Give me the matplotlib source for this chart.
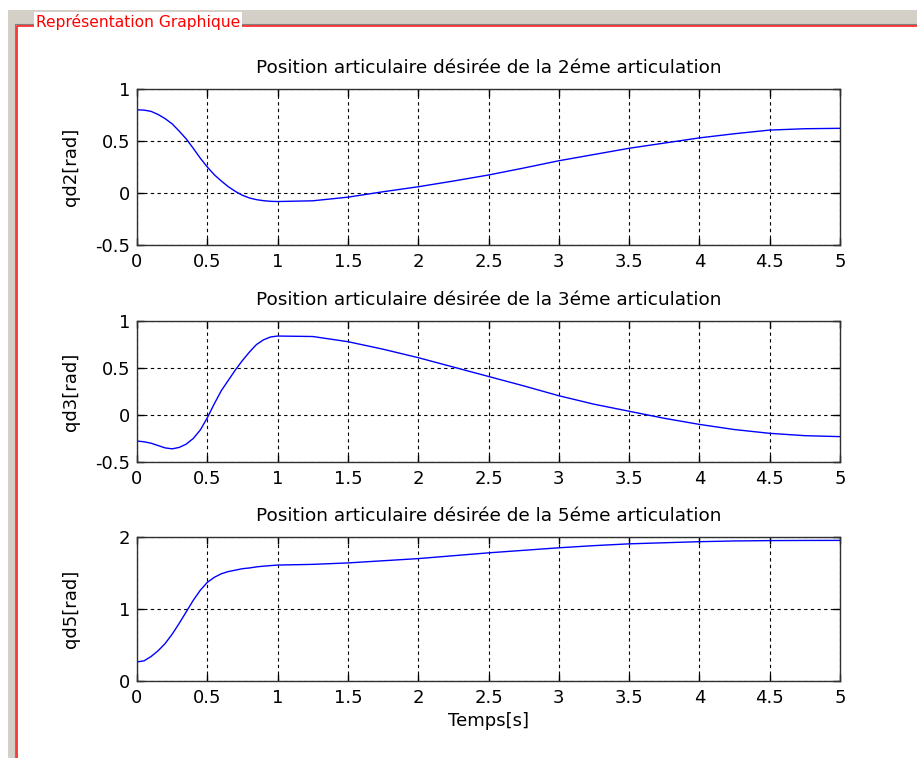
import numpy as np
import matplotlib
matplotlib.use("Agg")
import matplotlib.pyplot as plt
from matplotlib.patches import Rectangle
from matplotlib.lines import Line2D

plt.rcParams['font.family'] = ['DejaVu Sans']

# time samples
t = [0, 0.05, 0.1, 0.15, 0.2, 0.25, 0.3, 0.35, 0.4, 0.45, 0.5, 0.55, 0.6,
     0.65, 0.7, 0.75, 0.8, 0.85, 0.9, 0.95, 1.0, 1.25, 1.5, 1.75,
     2.0, 2.25, 2.5, 2.75, 3.0, 3.25, 3.5, 3.75, 4.0, 4.25, 4.5, 4.75, 5.0]

qd2 = [0.80, 0.797, 0.785, 0.755, 0.715, 0.665, 0.595, 0.52, 0.43, 0.335,
       0.25, 0.175, 0.115, 0.06, 0.015, -0.022, -0.048, -0.064, -0.074,
       -0.08, -0.082, -0.075, -0.04, 0.012, 0.06, 0.115, 0.173, 0.24, 0.31,
       0.37, 0.43, 0.48, 0.53, 0.57, 0.605, 0.618, 0.622]

qd3 = [-0.277, -0.285, -0.30, -0.325, -0.35, -0.36, -0.345, -0.31, -0.25,
       -0.16, -0.03, 0.12, 0.26, 0.37, 0.48, 0.58, 0.67, 0.75, 0.80, 0.83,
       0.84, 0.835, 0.78, 0.70, 0.61, 0.51, 0.41, 0.31, 0.205, 0.115, 0.04,
       -0.035, -0.10, -0.155, -0.195, -0.22, -0.23]

qd5 = [0.265, 0.28, 0.34, 0.42, 0.52, 0.65, 0.80, 0.96, 1.12, 1.26, 1.37,
       1.44, 1.49, 1.52, 1.54, 1.56, 1.57, 1.585, 1.595, 1.603, 1.61,
       1.62, 1.64, 1.67, 1.70, 1.74, 1.78, 1.815, 1.85, 1.88, 1.905, 1.92,
       1.935, 1.945, 1.95, 1.952, 1.953]

titles = ["Position articulaire désirée de la 2éme articulation",
          "Position articulaire désirée de la 3éme articulation",
          "Position articulaire désirée de la 5éme articulation"]
ylabels = ["qd2[rad]", "qd3[rad]", "qd5[rad]"]
yticks = [[-0.5, 0, 0.5, 1], [-0.5, 0, 0.5, 1], [0, 1, 2]]
ylims = [(-0.5, 1), (-0.5, 1), (0, 2)]
xticks = [0, 0.5, 1, 1.5, 2, 2.5, 3, 3.5, 4, 4.5, 5]

W, H = 917, 758
fig = plt.figure(figsize=(W / 100, H / 100), dpi=100)
fig.patch.set_facecolor('white')

# GUI frame around the plots
gray = '#d4d0c8'
fig.add_artist(Rectangle((8 / W, 0), 1, 1 - 10 / H, transform=fig.transFigure,
                         facecolor=gray, edgecolor='none', zorder=0))
fig.add_artist(Rectangle((17 / W, 0), 1, 1 - 26 / H, transform=fig.transFigure,
                         facecolor='white', edgecolor='none', zorder=0))
fig.add_artist(Line2D([15.3 / W, 15.3 / W, 1], [0, 1 - 24.3 / H, 1 - 24.3 / H],
                      transform=fig.transFigure, color='#808080', lw=0.8, zorder=1))
fig.add_artist(Line2D([16.6 / W, 16.6 / W, 1], [0, 1 - 25.6 / H, 1 - 25.6 / H],
                      transform=fig.transFigure, color='#ff2020', lw=1.2, zorder=1))
fig.text(36 / W, 1 - 22 / H, "Représentation Graphique", color='red',
         fontsize=11.2, va='center', ha='left', zorder=3,
         bbox=dict(facecolor='white', edgecolor='none', pad=1.5))

boxes = [(137, 89, 245), (137, 321, 462), (137, 537, 681)]
series = [qd2, qd3, qd5]

for i, (x0, top, bot) in enumerate(boxes):
    ax = fig.add_axes([x0 / W, 1 - bot / H, (840 - x0) / W, (bot - top) / H])
    ax.plot(t, series[i], color='#0000ff', lw=1)
    ax.set_xlim(0, 5)
    ax.set_ylim(*ylims[i])
    ax.set_xticks(xticks)
    ax.set_xticklabels([f"{v:g}" for v in xticks])
    ax.set_yticks(yticks[i])
    ax.set_yticklabels([f"{v:g}" for v in yticks[i]])
    ax.grid(True, color='black', linestyle=(0, (3, 3)), lw=0.8)
    ax.tick_params(direction='in', length=5, width=1, top=True, right=True,
                   labelsize=13, colors='black')
    ax.tick_params(axis='x', pad=6)
    ax.tick_params(axis='y', pad=5)
    for s in ax.spines.values():
        s.set_color('#303030')
        s.set_linewidth(1)
    ax.set_title(titles[i], fontsize=13.3, pad=11.5)
    ax.set_ylabel(ylabels[i], fontsize=13)
    ax.yaxis.set_label_coords(-0.081, 0.5)
    if i == 2:
        ax.set_xlabel("Temps[s]", fontsize=13, labelpad=3)

fig.savefig("out.png", dpi=100)
